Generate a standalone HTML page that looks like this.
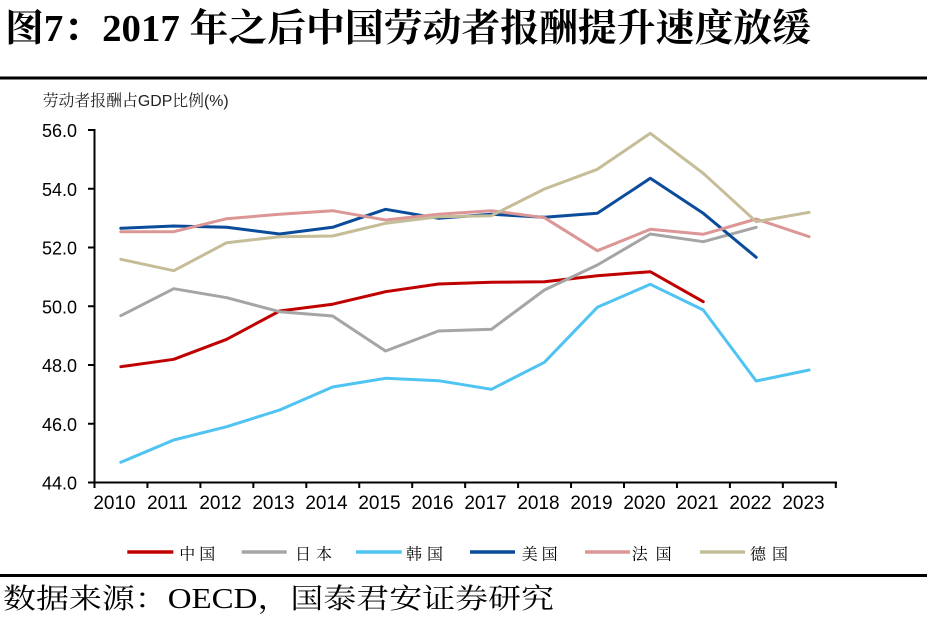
<!DOCTYPE html>
<html>
<head>
<meta charset="utf-8">
<style>
  html,body{margin:0;padding:0;background:#fff;}
  body{width:927px;height:623px;overflow:hidden;}
  svg{display:block;}
  .sans{font-family:"Liberation Sans","Noto Serif CJK SC",sans-serif;}
  .serif{font-family:"Liberation Serif","Noto Serif CJK SC",serif;}
</style>
</head>
<body>
<svg width="927" height="623" viewBox="0 0 927 623" xmlns="http://www.w3.org/2000/svg">
  <rect x="0" y="0" width="927" height="623" fill="#fff"/>
  <!-- Title -->
  <text x="5" y="41" class="serif" font-size="38" font-weight="bold" fill="#000" textLength="806" lengthAdjust="spacingAndGlyphs">图7：2017 年之后中国劳动者报酬提升速度放缓</text>
  <rect x="0" y="76.5" width="927" height="3" fill="#000"/>

  <!-- Y axis title -->
  <text x="42.7" y="106" class="sans" font-size="16" fill="#222" textLength="186" lengthAdjust="spacingAndGlyphs">劳动者报酬占GDP比例(%)</text>

  <!-- Y labels -->
  <g class="sans" font-size="18" fill="#000" text-anchor="end">
    <text x="77" y="137">56.0</text>
    <text x="77" y="195.75">54.0</text>
    <text x="77" y="254.5">52.0</text>
    <text x="77" y="313.25">50.0</text>
    <text x="77" y="372">48.0</text>
    <text x="77" y="430.75">46.0</text>
    <text x="77" y="489.5">44.0</text>
  </g>

  <!-- Axes -->
  <g stroke="#000" stroke-width="2" fill="none">
    <line x1="94.5" y1="129" x2="94.5" y2="483.5"/>
    <line x1="88" y1="482.5" x2="837" y2="482.5"/>
    <line x1="88" y1="130" x2="94.5" y2="130"/>
    <line x1="88" y1="188.75" x2="94.5" y2="188.75"/>
    <line x1="88" y1="247.5" x2="94.5" y2="247.5"/>
    <line x1="88" y1="306.25" x2="94.5" y2="306.25"/>
    <line x1="88" y1="365" x2="94.5" y2="365"/>
    <line x1="88" y1="423.75" x2="94.5" y2="423.75"/>
  </g>
  <g stroke="#000" stroke-width="2">
    <line x1="94.5" y1="482" x2="94.5" y2="488"/>
    <line x1="147.45" y1="482" x2="147.45" y2="488"/>
    <line x1="200.4" y1="482" x2="200.4" y2="488"/>
    <line x1="253.35" y1="482" x2="253.35" y2="488"/>
    <line x1="306.3" y1="482" x2="306.3" y2="488"/>
    <line x1="359.25" y1="482" x2="359.25" y2="488"/>
    <line x1="412.2" y1="482" x2="412.2" y2="488"/>
    <line x1="465.15" y1="482" x2="465.15" y2="488"/>
    <line x1="518.1" y1="482" x2="518.1" y2="488"/>
    <line x1="571.05" y1="482" x2="571.05" y2="488"/>
    <line x1="624" y1="482" x2="624" y2="488"/>
    <line x1="676.95" y1="482" x2="676.95" y2="488"/>
    <line x1="729.9" y1="482" x2="729.9" y2="488"/>
    <line x1="782.85" y1="482" x2="782.85" y2="488"/>
    <line x1="835.8" y1="482" x2="835.8" y2="488"/>
  </g>

  <!-- X labels -->
  <g class="sans" font-size="19" fill="#000" text-anchor="middle">
    <text x="114.5" y="509">2010</text>
    <text x="167.5" y="509">2011</text>
    <text x="220.5" y="509">2012</text>
    <text x="273.5" y="509">2013</text>
    <text x="326.5" y="509">2014</text>
    <text x="379.5" y="509">2015</text>
    <text x="432.5" y="509">2016</text>
    <text x="485.5" y="509">2017</text>
    <text x="538.5" y="509">2018</text>
    <text x="591.5" y="509">2019</text>
    <text x="644.5" y="509">2020</text>
    <text x="697.5" y="509">2021</text>
    <text x="750.5" y="509">2022</text>
    <text x="803.5" y="509">2023</text>
  </g>

  <!-- Series -->
  <g fill="none" stroke-width="3" stroke-linejoin="round" stroke-linecap="round">
    <!-- China -->
    <polyline stroke="#C00000" points="120.8,366.7 173.75,359.3 226.7,339.3 279.65,311 332.6,304.2 385.55,291.7 438.5,284 491.45,282.3 544.4,281.7 597.35,275.7 650.3,271.7 703.25,301.7"/>
    <!-- Japan -->
    <polyline stroke="#A5A5A5" points="120.8,315.7 173.75,288.7 226.7,297.7 279.65,311.7 332.6,316 385.55,351 438.5,331 491.45,329.3 544.4,290 597.35,265 650.3,234 703.25,241.7 756.2,227.3"/>
    <!-- Korea -->
    <polyline stroke="#4FC3F2" points="120.8,462.3 173.75,440 226.7,426.7 279.65,410 332.6,387 385.55,378.3 438.5,380.7 491.45,389.3 544.4,362.3 597.35,307.3 650.3,284.3 703.25,310 756.2,381 809.15,370"/>
    <!-- USA -->
    <polyline stroke="#0B4C9A" points="120.8,228.3 173.75,226 226.7,227.3 279.65,234 332.6,227.3 385.55,209.3 438.5,218.3 491.45,214.3 544.4,217.3 597.35,213.3 650.3,178.3 703.25,213.3 756.2,257.3"/>
    <!-- France -->
    <polyline stroke="#DC9696" points="120.8,231.7 173.75,231.7 226.7,218.7 279.65,214.3 332.6,210.7 385.55,220 438.5,214.3 491.45,210.7 544.4,217.7 597.35,250.7 650.3,229.3 703.25,234.3 756.2,219 809.15,236.7"/>
    <!-- Germany -->
    <polyline stroke="#C4BD97" points="120.8,259.3 173.75,270.7 226.7,242.7 279.65,236.7 332.6,236 385.55,223.3 438.5,216.7 491.45,215.7 544.4,189 597.35,169.3 650.3,133.3 703.25,173.3 756.2,221.7 809.15,212.3"/>
  </g>

  <!-- Legend -->
  <g stroke-width="3.5">
    <line x1="127.3" y1="552" x2="173.3" y2="552" stroke="#C00000"/>
    <line x1="241.7" y1="552" x2="286.7" y2="552" stroke="#A5A5A5"/>
    <line x1="356" y1="552" x2="401.7" y2="552" stroke="#4FC3F2"/>
    <line x1="470" y1="552" x2="515" y2="552" stroke="#0B4C9A"/>
    <line x1="585" y1="552" x2="630" y2="552" stroke="#DC9696"/>
    <line x1="700" y1="552" x2="745" y2="552" stroke="#C4BD97"/>
  </g>
  <g class="serif" font-size="16" fill="#000">
    <text x="179.3" y="559.5" textLength="36" lengthAdjust="spacing">中国</text>
    <text x="295" y="559.5" textLength="37" lengthAdjust="spacing">日本</text>
    <text x="406" y="559.5" textLength="37" lengthAdjust="spacing">韩国</text>
    <text x="521.7" y="559.5" textLength="36" lengthAdjust="spacing">美国</text>
    <text x="631.7" y="559.5" textLength="40" lengthAdjust="spacing">法国</text>
    <text x="750" y="559.5" textLength="38" lengthAdjust="spacing">德国</text>
  </g>

  <!-- Footer -->
  <rect x="0" y="574" width="927" height="3" fill="#000"/>
  <text x="3" y="608" class="serif" font-size="28" fill="#000" textLength="551" lengthAdjust="spacingAndGlyphs">数据来源：OECD，国泰君安证券研究</text>
</svg>
</body>
</html>
